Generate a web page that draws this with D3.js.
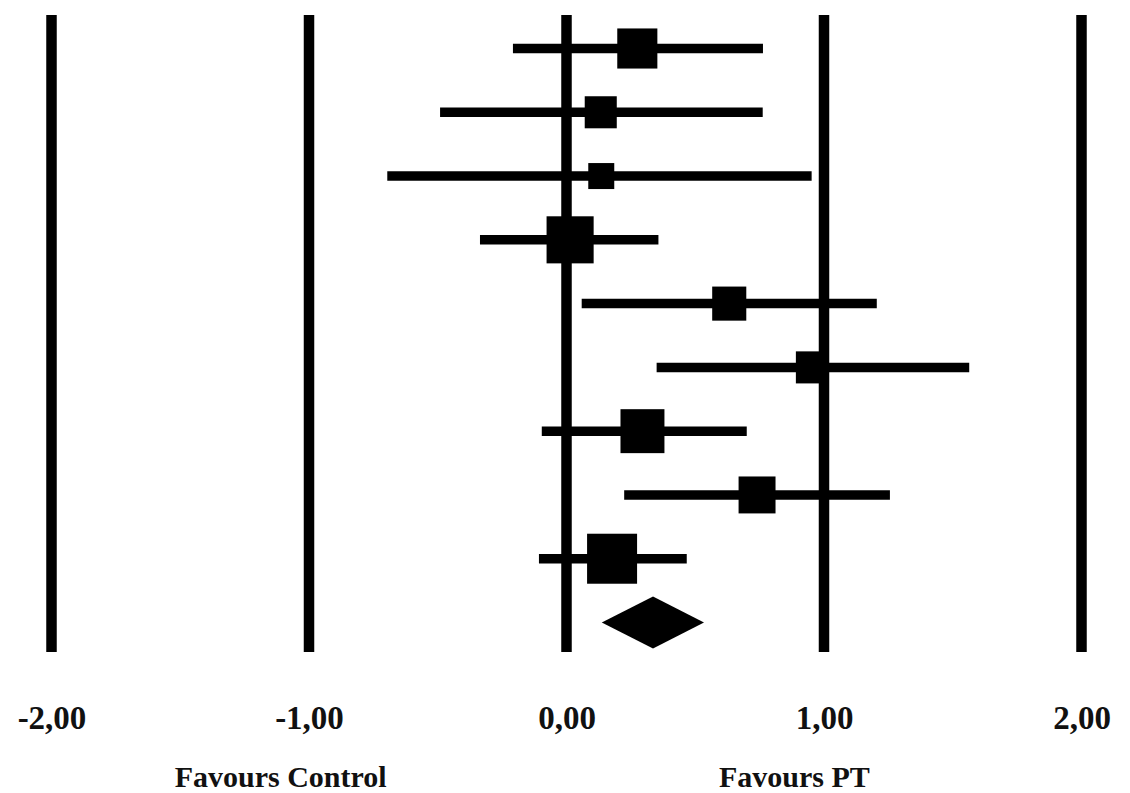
<!DOCTYPE html>
<html>
<head>
<meta charset="utf-8">
<script src="https://cdn.jsdelivr.net/npm/d3@7/dist/d3.min.js"></script>
<style>
  html, body { margin: 0; padding: 0; background: #fff; }
  svg { display: block; }
  text { font-family: "Liberation Serif", "Times New Roman", serif; font-weight: bold; fill: #111; }
</style>
</head>
<body>
<svg id="chart" width="1130" height="793"></svg>
<script>
// Standardised mean differences per study (PT vs control) with 95% CI
const studies   = ["S1", "S2", "S3", "S4", "S5", "S6", "S7", "S8", "S9"];
const estimates = [0.275, 0.133, 0.135, 0.014, 0.632, 0.953, 0.295, 0.740, 0.177];
const lowerCI   = [-0.208, -0.491, -0.696, -0.336, 0.059, 0.350, -0.096, 0.224, -0.107];
const upperCI   = [0.763, 0.762, 0.952, 0.357, 1.205, 1.564, 0.700, 1.256, 0.467];
const weights   = [11.9, 7.6, 5.0, 16.4, 8.6, 7.6, 14.3, 10.1, 18.5];

// Pooled estimate
const pooled = { lower: 0.137, estimate: 0.336, upper: 0.534 };

const tickValues = [-2, -1, 0, 1, 2];
const tickLabels = ["-2,00", "-1,00", "0,00", "1,00", "2,00"];
const sideLabels = [
  { text: "Favours Control", at: -1.11 },
  { text: "Favours PT", at: 0.885 }
];

const svg = d3.select("#chart");

const x = d3.scaleLinear().domain([-2, 2]).range([51.5, 1081.5]);
const rows = studies.concat(["pooled"]);
const y = d3.scalePoint().domain(rows).range([48.5, 622.5]);
const boxSide = d3.scaleSqrt().domain([0, 18.5]).range([0, 50]);

// Vertical reference lines at every tick
svg.append("g")
  .selectAll("line")
  .data(tickValues)
  .join("line")
  .attr("x1", d => x(d)).attr("x2", d => x(d))
  .attr("y1", 15).attr("y2", 652)
  .attr("stroke", "#000")
  .attr("stroke-width", 10.5);

// Axis labels below the lines
const axis = d3.axisBottom(x)
  .tickValues(tickValues)
  .tickFormat((d, i) => tickLabels[i])
  .tickSize(0)
  .tickPadding(0);

const axisG = svg.append("g")
  .attr("transform", "translate(0,729)")
  .call(axis);
axisG.select(".domain").remove();
axisG.selectAll("text")
  .attr("dy", 0)
  .attr("y", 0)
  .attr("fill", "#111")
  .style("font-family", "'Liberation Serif', 'Times New Roman', serif")
  .style("font-weight", "bold")
  .style("font-size", "33px");

// Confidence intervals
const studyData = studies.map((s, i) => ({
  id: s, est: estimates[i], lo: lowerCI[i], hi: upperCI[i], w: weights[i]
}));

svg.append("g")
  .selectAll("line")
  .data(studyData)
  .join("line")
  .attr("x1", d => x(d.lo)).attr("x2", d => x(d.hi))
  .attr("y1", d => y(d.id)).attr("y2", d => y(d.id))
  .attr("stroke", "#000")
  .attr("stroke-width", 9.5);

// Point estimates, box area proportional to weight
svg.append("g")
  .selectAll("rect")
  .data(studyData)
  .join("rect")
  .attr("x", d => x(d.est) - boxSide(d.w) / 2)
  .attr("y", d => y(d.id) - boxSide(d.w) / 2)
  .attr("width", d => boxSide(d.w))
  .attr("height", d => boxSide(d.w))
  .attr("fill", "#000");

// Pooled effect diamond
const py = y("pooled");
const half = 26;
svg.append("path")
  .attr("d", [
    [x(pooled.lower), py],
    [x(pooled.estimate), py - half],
    [x(pooled.upper), py],
    [x(pooled.estimate), py + half]
  ].map((p, i) => (i ? "L" : "M") + p[0] + "," + p[1]).join("") + "Z")
  .attr("fill", "#000");

// Direction labels
svg.append("g")
  .selectAll("text")
  .data(sideLabels)
  .join("text")
  .attr("x", d => x(d.at))
  .attr("y", 787)
  .attr("text-anchor", "middle")
  .style("font-size", "30px")
  .text(d => d.text);
</script>
</body>
</html>
